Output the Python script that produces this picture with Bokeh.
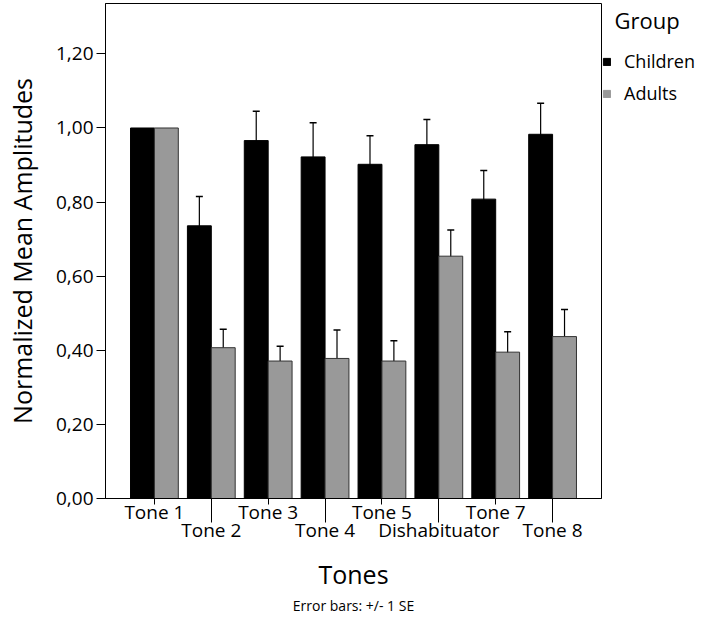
from bokeh.plotting import figure
from bokeh.layouts import row
from bokeh.models import (Range1d, FixedTicker, CustomJSTickFormatter, ColumnDataSource,
                          Whisker, TeeHead, Legend, LegendItem, Title)
from bokeh.embed import file_html
from bokeh.resources import INLINE

# ---- data ----
tones = ["Tone 1", "Tone 2", "Tone 3", "Tone 4", "Tone 5", "Dishabituator", "Tone 7", "Tone 8"]
children = [1.00, 0.736, 0.966, 0.922, 0.902, 0.955, 0.808, 0.983]
children_se = [0.0, 0.079, 0.079, 0.092, 0.077, 0.068, 0.077, 0.084]
adults = [1.00, 0.407, 0.371, 0.378, 0.371, 0.654, 0.395, 0.437]
adults_se = [0.0, 0.050, 0.040, 0.077, 0.055, 0.071, 0.055, 0.073]
y_ticks = [0, 0.2, 0.4, 0.6, 0.8, 1.0, 1.2]
groups = ["Children", "Adults"]
colors = ["black", "#999999"]

FONT = "Open Sans"
H = 620

xs = list(range(1, len(tones) + 1))
off = 0.21
bw = 0.42

p = figure(width=602, height=H, x_range=Range1d(0.14, len(tones) + 0.86), y_range=Range1d(0, 1.336),
           output_backend="svg", toolbar_location=None,
           min_border_left=105, min_border_right=1, min_border_top=3, min_border_bottom=122)
p.frame_align = False
p.grid.visible = False
p.outline_line_color = "black"
p.outline_line_width = 1
p.background_fill_color = "white"
p.border_fill_color = "white"

src = ColumnDataSource(dict(
    xc=[x - off for x in xs], xa=[x + off for x in xs],
    children=children, adults=adults))

rc = p.vbar(x="xc", top="children", width=bw, source=src, fill_color=colors[0], line_color="black", line_width=1)
ra = p.vbar(x="xa", top="adults", width=bw, source=src, fill_color=colors[1], line_color="#333333", line_width=1)

# error bars (Tone 1 has none)
idx = [i for i in range(len(tones)) if children_se[i] > 0]
esrc_c = ColumnDataSource(dict(
    base=[xs[i] - off for i in idx],
    upper=[children[i] + children_se[i] for i in idx],
    lower=[children[i] - children_se[i] for i in idx]))
esrc_a = ColumnDataSource(dict(
    base=[xs[i] + off for i in idx],
    upper=[adults[i] + adults_se[i] for i in idx],
    lower=[adults[i] - adults_se[i] for i in idx]))
for s in (esrc_c, esrc_a):
    w = Whisker(base="base", upper="upper", lower="lower", source=s,
                upper_head=TeeHead(size=7, line_color="black", line_width=1.5),
                lower_head=TeeHead(size=7, line_color="black", line_width=1.5),
                line_color="black", line_width=1.2)
    p.add_layout(w)

# y axis
p.yaxis.ticker = FixedTicker(ticks=y_ticks)
p.yaxis.formatter = CustomJSTickFormatter(code="return tick.toFixed(2).replace('.', ',');")
p.yaxis.major_label_text_font = FONT
p.yaxis.major_label_text_font_size = "19px"
p.yaxis.major_label_text_color = "black"
p.yaxis.major_tick_in = 0
p.yaxis.major_tick_out = 9
p.yaxis.major_label_standoff = 3
p.yaxis.minor_tick_line_color = None
p.yaxis.axis_line_color = "black"
p.yaxis.axis_label = "Normalized Mean Amplitudes"
p.yaxis.axis_label_text_font = FONT
p.yaxis.axis_label_text_font_size = "25px"
p.yaxis.axis_label_text_font_style = "normal"
p.yaxis.axis_label_text_color = "black"
p.yaxis.axis_label_standoff = 14

# x axis: staggered labels (odd on first row, even on second row with long ticks)
labels_js = "const names = %r; const i = Math.round(tick) - 1; return (i %% 2 == 1 ? '\\n' : '') + names[i];" % tones
p.xaxis.ticker = FixedTicker(ticks=xs, minor_ticks=xs[1::2])
p.xaxis.formatter = CustomJSTickFormatter(code=labels_js)
p.xaxis.major_tick_in = 0
p.xaxis.major_tick_out = 6
p.xaxis.minor_tick_in = 0
p.xaxis.minor_tick_out = 24
p.xaxis.minor_tick_line_color = "black"
p.xaxis.major_label_standoff = -24
p.xaxis.major_label_text_font = FONT
p.xaxis.major_label_text_font_size = "19px"
p.xaxis.major_label_text_line_height = 0.7
p.xaxis.major_label_text_color = "black"
p.xaxis.axis_line_color = "black"
p.xaxis.axis_label = "Tones"
p.xaxis.axis_label_text_font = FONT
p.xaxis.axis_label_text_font_size = "25px"
p.xaxis.axis_label_text_font_style = "normal"
p.xaxis.axis_label_text_color = "black"
p.xaxis.axis_label_standoff = 11

p.add_layout(Title(text="Error bars: +/- 1 SE", align="center", offset=9, standoff=0,
                   text_font=FONT, text_font_size="14px", text_font_style="normal",
                   text_color="black"), "below")

# legend panel
leg = figure(width=106, height=H, x_range=Range1d(0, 1), y_range=Range1d(0, 1),
             output_backend="svg", toolbar_location=None, x_axis_type=None, y_axis_type=None,
             min_border_left=0, min_border_right=0, min_border_top=0, min_border_bottom=0)
leg.frame_align = False
leg.grid.visible = False
leg.outline_line_color = None
leg.background_fill_color = "white"
leg.border_fill_color = "white"
leg.title.text = "Group"
leg.title.text_font = FONT
leg.title.text_font_size = "22px"
leg.title.text_font_style = "normal"
leg.title.text_color = "black"
leg.title.text_line_height = 0.8
leg.title.offset = 12
leg.title.standoff = 4

hidden = ColumnDataSource(dict(x=[0.5], top=[-5], bottom=[-6]))
dummies = [leg.vbar(x="x", top="top", bottom="bottom", width=0.5, source=hidden,
                    fill_color=c, line_color=c)
           for c in colors]
legend = Legend(items=[LegendItem(label=g, renderers=[r]) for g, r in zip(groups, dummies)],
                location=(0, 515), orientation="vertical",
                margin=0, padding=2, glyph_width=9, glyph_height=9, label_standoff=13,
                label_text_font=FONT, label_text_font_size="18px", label_text_color="black",
                label_height=20, spacing=8,
                border_line_color=None, background_fill_alpha=0)
leg.add_layout(legend)

layout = row(p, leg, spacing=0)
open("out.html", "w").write(file_html(layout, INLINE))
